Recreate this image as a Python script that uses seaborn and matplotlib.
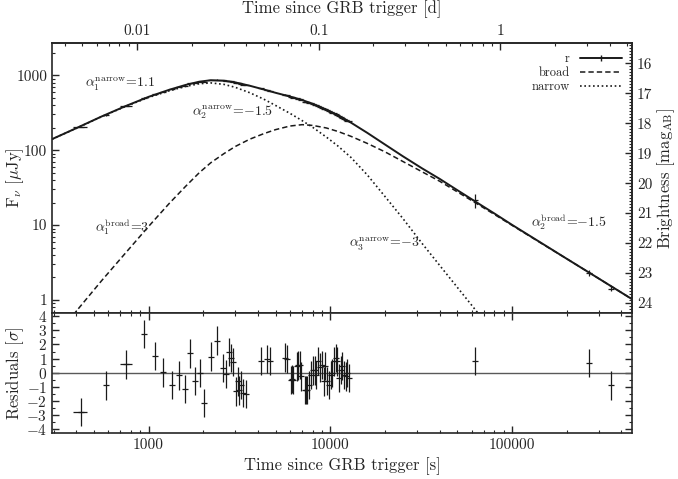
import numpy as np
import matplotlib
matplotlib.use('Agg')
import matplotlib.pyplot as plt
from matplotlib.lines import Line2D
from matplotlib.ticker import FixedLocator, LogLocator, MultipleLocator, NullFormatter
import seaborn as sns

# Model light curves (time since trigger [s], flux [uJy])
model_t = [294, 400, 550, 750, 1000, 1300, 1600, 1900, 2200, 2600, 3000, 3600,
           4300, 5000, 6000, 7000, 8000, 9500, 11000, 13000, 16000, 20000, 25000,
           32000, 40000, 50000, 65000, 80000, 100000, 150000, 200000, 300000, 460000]
total_flux = [140.3, 196.7, 281, 389, 515, 640, 743, 820, 858, 845, 802, 725,
              646, 583, 520, 467, 416, 348, 292, 233, 170, 119, 83.4,
              57.2, 41.4, 29.3, 19.6, 14.3, 10.1, 5.49, 3.56, 1.94, 1.02]
narrow_flux = [140, 196, 279, 385, 505, 620, 710, 770, 790, 755, 690, 585,
               480, 395, 310, 248, 202, 150, 114, 80, 46.6, 24.1, 12.4,
               5.7, 2.9, 1.48, 0.67, 0.36, 0.184, 0.055, 0.023, 0.0068, 0.0019]
broad_flux = [0.28, 0.71, 1.8, 4.3, 9.6, 19.5, 33, 50, 68, 90, 112, 140,
              166, 188, 210, 219, 214, 198, 178, 153, 123, 95, 71,
              51.5, 38.5, 27.8, 18.9, 13.9, 9.95, 5.44, 3.56, 1.94, 1.02]

# r-band photometry
data_t = [423, 580, 748, 943, 1079, 1205, 1349, 1469, 1577, 1689, 1812, 1916,
          2013, 2203, 2394, 2552, 2663, 2773, 2845, 2930, 3020, 3097, 3162, 3220,
          3329, 3430, 4160, 4467, 4677, 5636, 5808, 6060, 6140, 6266, 6590, 6680,
          6814, 6940, 7260, 7330, 7480, 7680, 7850, 8030, 8200, 8320, 8550, 8780,
          9030, 9240, 9380, 9620, 9820, 10060, 10250, 10450, 10710, 10940, 11200,
          11400, 11660, 11900, 12140, 12400, 12600, 62900, 265000, 351000]
data_flux = [203, 294, 391, 500, 554, 601, 652, 698, 727, 776, 794, 822,
             820, 866, 872, 853, 847, 842, 830, 821, 797, 790, 776, 771,
             752, 739, 669, 637, 618, 548, 537, 516, 512, 503, 491, 487,
             480, 471, 446, 442, 435, 427, 422, 416, 406, 398, 392, 380,
             370, 355, 355, 340, 331, 324, 318, 313, 305, 296, 284,
             279, 272, 262, 255, 248, 242, 21.5, 2.3, 1.42]
data_err = [2.2, 5, 6, 5, 6, 7, 7, 8, 7, 8, 8, 9,
            7, 7, 7, 8, 9, 8, 8, 8, 8, 8, 8, 8,
            8, 8, 7, 7, 7, 6, 6, 6, 6, 6, 5, 5,
            5, 5, 5, 5, 5, 5, 5, 5, 5, 5, 5, 5,
            5, 5, 5, 5, 5, 5, 5, 5, 5, 5, 5,
            5, 5, 5, 5, 5, 5, 4.7, 0.18, 0.12]
residuals = [-2.77, -0.89, 0.59, 2.75, 1.2, 0.03, -0.85, -0.18, -1.15, 1.37, -0.58, 0.0,
             -2.15, 1.15, 2.28, 0.33, -0.09, 1.46, 1.03, 0.75, -1.31, -0.61, -1.24, -0.84,
             -1.43, -1.5, 0.85, 0.96, 0.85, 1.08, 0.99, -0.49, -0.44, -0.49, 0.45, 0.52,
             0.56, -0.26, -1.2, -1.2, -1.2, -0.84, -0.14, 0.17, 0.17, -0.14, 0.85, 0.38,
             0.56, -0.61, 0.47, -0.6, -0.84, -0.14, -0.02, 0.8, 1.03, 0.8, -0.37,
             0.21, 0.47, -0.14, -0.26, -0.02, -0.37, 0.85, 0.7, -0.89]
resid_err = 1.0
# the two exposures with visible time bins
binned = [0, 2]
bin_lo = [39, 55]
bin_hi = [33, 66]

flux_ticks = [1, 10, 100, 1000]
mag_ticks = [16, 17, 18, 19, 20, 21, 22, 23, 24]
day_ticks = [0.01, 0.1, 1]
sec_ticks = [1000, 10000, 100000]
res_ticks = [-4, -3, -2, -1, 0, 1, 2, 3, 4]

sns.set_theme(style='ticks')
plt.rcParams['font.family'] = 'serif'
plt.rcParams['font.serif'] = ['cmr10']
plt.rcParams['mathtext.fontset'] = 'cm'
plt.rcParams['axes.formatter.use_mathtext'] = True
plt.rcParams['font.size'] = 9
plt.rcParams['axes.linewidth'] = 1.2

fig = plt.figure(figsize=(6.78, 4.79), dpi=100)
ax = fig.add_axes([0.0767, 0.3459, 0.8555, 0.5643])
axr = fig.add_axes([0.0767, 0.0960, 0.8555, 0.2499], sharex=ax)

ax.set_xscale('log')
ax.set_yscale('log')
ax.set_xlim(294, 458000)
ax.set_ylim(0.665, 2692)

# model curves
sns.lineplot(x=model_t, y=total_flux, ax=ax, color='k', lw=1.4, sort=False, estimator=None)
sns.lineplot(x=model_t, y=broad_flux, ax=ax, color='k', lw=1.1, linestyle=(0, (3.5, 2)),
             sort=False, estimator=None)
sns.lineplot(x=model_t, y=narrow_flux, ax=ax, color='k', lw=1.2, linestyle=(0, (1, 1.6)),
             sort=False, estimator=None)

# data
ax.errorbar(data_t, data_flux, yerr=data_err, fmt='_', color='k', ms=4, mew=0.9,
            elinewidth=0.9, capsize=0)
ax.errorbar([data_t[i] for i in binned], [data_flux[i] for i in binned],
            xerr=[bin_lo, bin_hi], fmt='none', ecolor='k', elinewidth=0.9, capsize=0)

# annotations
ax.text(449, 692, r'$\alpha_1^{\rm narrow}$=1.1', fontsize=10)
ax.text(1738, 293, r'$\alpha_2^{\rm narrow}$=$-$1.5', fontsize=10)
ax.text(509, 8.15, r'$\alpha_1^{\rm broad}$=3', fontsize=10)
ax.text(12680, 5.09, r'$\alpha_3^{\rm narrow}$=$-$3', fontsize=10)
ax.text(126800, 9.48, r'$\alpha_2^{\rm broad}$=$-$1.5', fontsize=10)

handles = [Line2D([], [], color='k', lw=1.4, marker='|', ms=5, mew=1),
           Line2D([], [], color='k', lw=1.1, linestyle=(0, (3.5, 2))),
           Line2D([], [], color='k', lw=1.2, linestyle=(0, (1, 1.6)))]
ax.legend(handles, ['r', 'broad', 'narrow'], loc='upper right', frameon=False,
          markerfirst=False, handlelength=3.4, labelspacing=0.15, borderaxespad=0.4,
          fontsize=9)

ax.yaxis.set_major_locator(FixedLocator(flux_ticks))
ax.set_yticklabels([str(v) for v in flux_ticks])
ax.yaxis.set_minor_locator(LogLocator(base=10, subs=np.arange(2, 10)))
ax.yaxis.set_minor_formatter(NullFormatter())
ax.tick_params(which='both', direction='in', top=False, right=False, labelbottom=False)
ax.tick_params(which='major', length=5, width=1)
ax.tick_params(which='minor', length=2.5, width=0.8)
ax.set_ylabel(r'F$_\nu$ [$\mu$Jy]')

top = ax.secondary_xaxis('top', functions=(lambda s: s / 86400.0, lambda d: d * 86400.0))
top.set_xticks(day_ticks, labels=['0.01', '0.1', '1'])
top.xaxis.set_minor_locator(LogLocator(base=10, subs=np.arange(2, 10)))
top.xaxis.set_minor_formatter(NullFormatter())
top.tick_params(which='both', direction='in')
top.tick_params(which='major', length=5, width=1)
top.tick_params(which='minor', length=2.5, width=0.8)
top.set_xlabel('Time since GRB trigger [d]', labelpad=8)

def flux2mag(f):
    return 23.9 - 2.5 * np.log10(np.clip(f, 1e-12, None))

def mag2flux(m):
    return 10 ** ((23.9 - np.asarray(m, dtype=float)) / 2.5)

right = ax.secondary_yaxis('right', functions=(flux2mag, mag2flux))
right.set_yticks(mag_ticks, labels=[str(v) for v in mag_ticks])
right.yaxis.set_minor_locator(MultipleLocator(0.1))
right.yaxis.set_minor_formatter(NullFormatter())
right.tick_params(which='both', direction='in')
right.tick_params(which='major', length=5, width=1)
right.tick_params(which='minor', length=2.5, width=0.8)
right.set_ylabel(r'Brightness [mag$_{\rm AB}$]', labelpad=2)

# residual panel
axr.axhline(0, color='0.35', lw=1)
axr.errorbar(data_t, residuals, yerr=resid_err, fmt='_', color='k', ms=4, mew=0.9,
             elinewidth=0.9, capsize=0)
axr.errorbar([data_t[i] for i in binned], [residuals[i] for i in binned],
             xerr=[bin_lo, bin_hi], fmt='none', ecolor='k', elinewidth=0.9, capsize=0)
axr.set_ylim(-4.25, 4.2)
axr.set_yticks(res_ticks, labels=['$%d$' % v for v in res_ticks])
axr.yaxis.set_minor_locator(MultipleLocator(0.5))
axr.xaxis.set_major_locator(FixedLocator(sec_ticks))
axr.set_xticklabels([str(v) for v in sec_ticks])
axr.xaxis.set_minor_locator(LogLocator(base=10, subs=np.arange(2, 10)))
axr.xaxis.set_minor_formatter(NullFormatter())
axr.tick_params(which='both', direction='in', top=True, right=True)
axr.tick_params(which='major', length=5, width=1)
axr.tick_params(which='minor', length=2.5, width=0.8)
axr.set_ylabel(r'Residuals [$\sigma$]')
axr.set_xlabel('Time since GRB trigger [s]')

ax.yaxis.set_label_coords(-0.045, 0.5)
axr.yaxis.set_label_coords(-0.045, 0.5)

fig.savefig('out.png', dpi=100)
